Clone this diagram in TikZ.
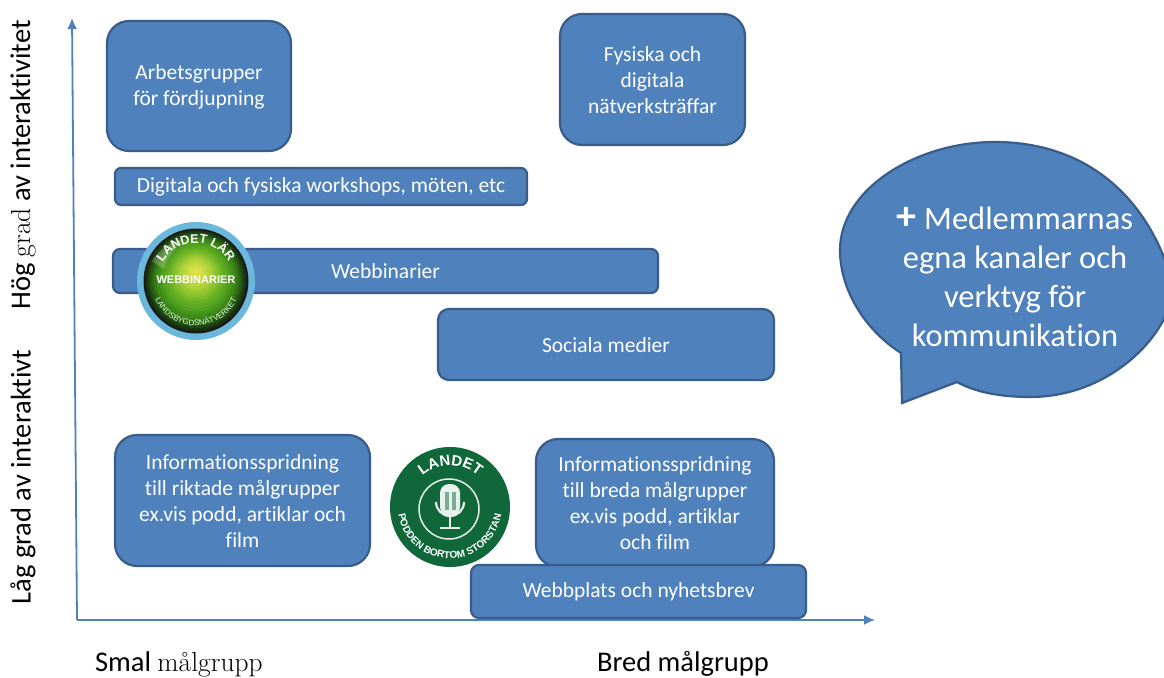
\documentclass[tikz,border=0pt]{standalone}
\usepackage{fontspec}
\setsansfont[RawFeature={-liga;-clig;-dlig}]{Carlito}
\newfontfamily\badgefont{Liberation Sans}
\usetikzlibrary{decorations.text,arrows.meta}
\definecolor{boxfill}{HTML}{4F81BD}
\definecolor{boxline}{HTML}{385D8A}
\definecolor{podgreen}{HTML}{10673A}
\definecolor{ringblue}{HTML}{6CB8DC}
\tikzset{
  x=1pt,y=-1pt,
  every node/.style={font=\sffamily,inner sep=0pt,outer sep=0pt},
  bluebox/.style={draw=boxline,line width=2.2pt,fill=boxfill,anchor=north west},
  boxtext/.style={text=white,align=center,font=\sffamily\fontsize{21.5}{26}\selectfont},
  axisline/.style={draw=boxfill,line width=1.8pt,-{Latex[length=11pt,width=10pt]}},
  axislabel/.style={text=black,font=\sffamily\fontsize{28.5}{32}\selectfont},
  badgearc/.style={decorate,decoration={text along path,text align=center,text color=#1}},
}
\newcommand{\boxnode}[7]{% name, x1,y1,x2,y2,radius,text
  \pgfmathsetmacro{\bw}{#4-#2}\pgfmathsetmacro{\bh}{#5-#3}
  \node[bluebox,rounded corners=#6pt,minimum width=\bw pt,minimum height=\bh pt] (#1) at (#2,#3) {};
  \node[boxtext] (#1text) at ([yshift=-0.6pt]#1.center) {#7};
}
\begin{document}
\begin{tikzpicture}
\useasboundingbox (0,0) rectangle (1164,677);
\fill[white] (0,0) rectangle (1164,677);

% axes
\coordinate (origin) at (77,620);
\coordinate (ytop) at (72,18);
\coordinate (xend) at (875,620);
\draw[axisline] (origin) -- (ytop);
\draw[axisline] (origin) -- (xend);

% boxes
\boxnode{arb}{107}{21}{291}{151}{22}{Arbetsgrupper\\för fördjupning}
\boxnode{fys}{560}{14}{745}{145}{22}{Fysiska och\\digitala\\nätverksträffar}
\boxnode{dig}{115}{168}{527}{205}{6}{Digitala och fysiska workshops, möten, etc}
\boxnode{webb}{113}{249}{658}{293}{7}{Webbinarier}
\boxnode{soc}{438}{309}{774}{380}{11}{Sociala medier}
\boxnode{infr}{115}{435}{370}{566}{22}{Informationsspridning\\till riktade målgrupper\\ex.vis podd, artiklar och\\film}
\boxnode{infb}{536}{439}{774}{567}{22}{Informationsspridning\\till breda målgrupper\\ex.vis podd, artiklar\\och film}
\boxnode{wpl}{471}{565}{806}{618}{8}{Webbplats och nyhetsbrev}

% speech bubble
\draw[draw=boxline,line width=2.2pt,fill=boxfill,line join=miter]
  (901,353) .. controls (865,330) and (840,290) .. (840,250)
  .. controls (840,190) and (915,142) .. (995,142)
  .. controls (1080,142) and (1145,190) .. (1172,280)
  .. controls (1180,320) and (1120,397) .. (1030,397)
  .. controls (1000,397) and (975,392) .. (957,382)
  -- (902,403) -- cycle;
\node[text=white,align=center,font=\sffamily\fontsize{32.5}{39}\selectfont] (bubble) at (1015,277)
  {{\bfseries\fontsize{40}{39}\selectfont +} Medlemmarnas\\egna kanaler och\\verktyg för\\kommunikation};

% axis labels
\node[axislabel,rotate=90] (hog) at (23,165) {Hög {\rmfamily\fontsize{27.5}{30}\selectfont grad} av interaktivitet};
\node[axislabel,rotate=90] (lag) at (23,477) {Låg grad av interaktivt};
\node[axislabel,anchor=base west] (smal) at (95,671.5) {Smal {\rmfamily\fontsize{27.5}{30}\selectfont målgrupp}};
\node[axislabel,anchor=base west] (bred) at (597,671.5) {Bred målgrupp};

% webinar badge
\begin{scope}[shift={(196,281)},y=1pt]
  \fill[ringblue] (0,0) circle[radius=59pt];
  \fill[black!85] (0,0) circle[radius=52.5pt];
  \foreach \r/\cr/\cg/\cb in {52/0.08/0.10/0.08, 51/0.09/0.14/0.08, 50/0.10/0.20/0.07, 48/0.12/0.28/0.07, 46/0.15/0.35/0.08, 44/0.18/0.42/0.08, 42/0.21/0.48/0.09, 40/0.24/0.54/0.10, 37/0.28/0.59/0.11, 34/0.32/0.63/0.12, 31/0.36/0.66/0.13, 28/0.40/0.70/0.14, 25/0.47/0.73/0.16, 22/0.54/0.76/0.18, 19/0.61/0.79/0.20, 16/0.68/0.82/0.23, 13/0.73/0.84/0.24, 10/0.77/0.85/0.26, 7/0.82/0.87/0.28, 4/0.86/0.88/0.30}{
    \definecolor{curgreen}{rgb}{\cr,\cg,\cb}
    \pgfmathsetmacro{\cy}{10*(1-\r/52)}
    \fill[curgreen] (0,\cy) circle[radius=\r pt];
  }
  \fill[white,opacity=0.22] (-44,20) .. controls (-36,32) and (-26,38) .. (-14,42) .. controls (-24,28) and (-30,22) .. (-32,12) -- cycle;
  \node[text=white,font=\badgefont\bfseries\fontsize{11}{12}\selectfont] (webtxt) at (0,1) {WEBBINARIER};
  \path[badgearc=white,decoration={text={|\badgefont\bfseries\fontsize{12.5}{13}\selectfont|LANDET LÄR}}] (-36,13) arc[start angle=160,end angle=20,radius=38pt];
  \path[badgearc=green!15!white,decoration={text={|\badgefont\fontsize{8}{9}\selectfont|LANDSBYGDSNÄTVERKET}}] (-44,-9) arc[start angle=192,end angle=348,radius=45pt];
\end{scope}

% podcast badge
\begin{scope}[shift={(450,507)},y=1pt]
  \fill[podgreen] (0,0) circle[radius=60pt];
  \draw[white!90!podgreen,line width=1.5pt] (-1,-2) circle[radius=30pt];
  \fill[white!90!podgreen,rounded corners=9pt] (-10,23) rectangle (10,-9);
  \fill[podgreen!55!white] (-5,15) rectangle (-1,-3);
  \fill[podgreen!55!white] (2,15) rectangle (6,-3);
  \draw[white!90!podgreen,line width=2.2pt] (-14,5) arc[start angle=180,end angle=360,radius=14pt];
  \draw[white!90!podgreen,line width=2.2pt] (0,-9) -- (0,-21);
  \draw[white!90!podgreen,line width=2.2pt] (-10,-21) -- (10,-21);
  \path[badgearc=white,decoration={text={|\badgefont\bfseries\fontsize{15}{16}\selectfont|LANDET}}] (-39,14) arc[start angle=160,end angle=20,radius=42pt];
  \path[badgearc=white,decoration={text={|\badgefont\bfseries\fontsize{10}{11}\selectfont|PODDEN BORTOM STORSTAN}}] (-52,5) arc[start angle=175,end angle=365,radius=52pt];
\end{scope}
\end{tikzpicture}
\end{document}
